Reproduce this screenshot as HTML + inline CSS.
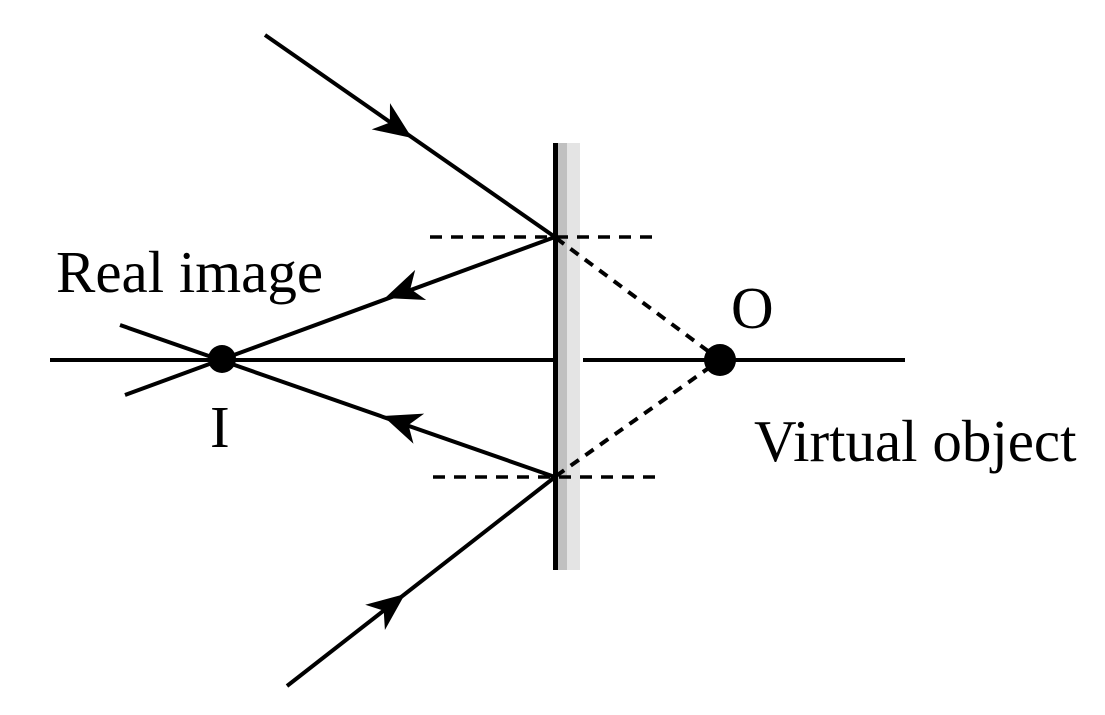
<!DOCTYPE html>
<html><head><meta charset="utf-8"><style>
html,body{margin:0;padding:0;background:#fff}
svg{display:block}
text{font-family:"Liberation Serif",serif;font-size:59px;fill:#000}
</style></head><body>
<svg width="1105" height="715" viewBox="0 0 1105 715" xmlns="http://www.w3.org/2000/svg">
<defs>
<path id="ah" d="M0,0 L-38,-16 L-27,0 L-38,16 Z" fill="#000"/>
</defs>
<!-- mirror -->
<rect x="558" y="143" width="9" height="427" fill="#c0c0c0"/>
<rect x="567" y="143" width="13" height="427" fill="#e4e4e4"/>
<line x1="555.5" y1="143" x2="555.5" y2="570" stroke="#000" stroke-width="5"/>
<!-- axis -->
<line x1="50" y1="360" x2="553" y2="360" stroke="#000" stroke-width="4"/>
<line x1="583" y1="360" x2="905" y2="360" stroke="#000" stroke-width="4"/>
<!-- dashed normals -->
<line x1="430" y1="237" x2="660" y2="237" stroke="#000" stroke-width="3.5" stroke-dasharray="12,9"/>
<line x1="433" y1="477" x2="663" y2="477" stroke="#000" stroke-width="3.5" stroke-dasharray="12,9"/>
<!-- dotted to O -->
<line x1="556" y1="238" x2="720" y2="360" stroke="#000" stroke-width="4" stroke-dasharray="10,8"/>
<line x1="556" y1="476" x2="720" y2="360" stroke="#000" stroke-width="4" stroke-dasharray="10,8"/>
<!-- rays -->
<g stroke="#000" stroke-width="4" fill="none">
<line x1="265" y1="35" x2="555" y2="237"/>
<line x1="555" y1="237" x2="125" y2="395"/>
<line x1="555" y1="477" x2="120" y2="325"/>
<line x1="287" y1="686" x2="555" y2="477"/>
</g>
<!-- arrowheads -->
<use href="#ah" transform="translate(412,138) rotate(34.9)"/>
<use href="#ah" transform="translate(385,298) rotate(159.9)"/>
<use href="#ah" transform="translate(383,416) rotate(199.5)"/>
<use href="#ah" transform="translate(405,594) rotate(-38)"/>
<!-- points -->
<circle cx="222" cy="359" r="14" fill="#000"/>
<circle cx="720" cy="360" r="16" fill="#000"/>
<!-- labels -->
<text x="56" y="292">Real image</text>
<text x="210" y="447">I</text>
<text x="731" y="328">O</text>
<text x="754" y="461">Virtual object</text>
</svg>
</body></html>
